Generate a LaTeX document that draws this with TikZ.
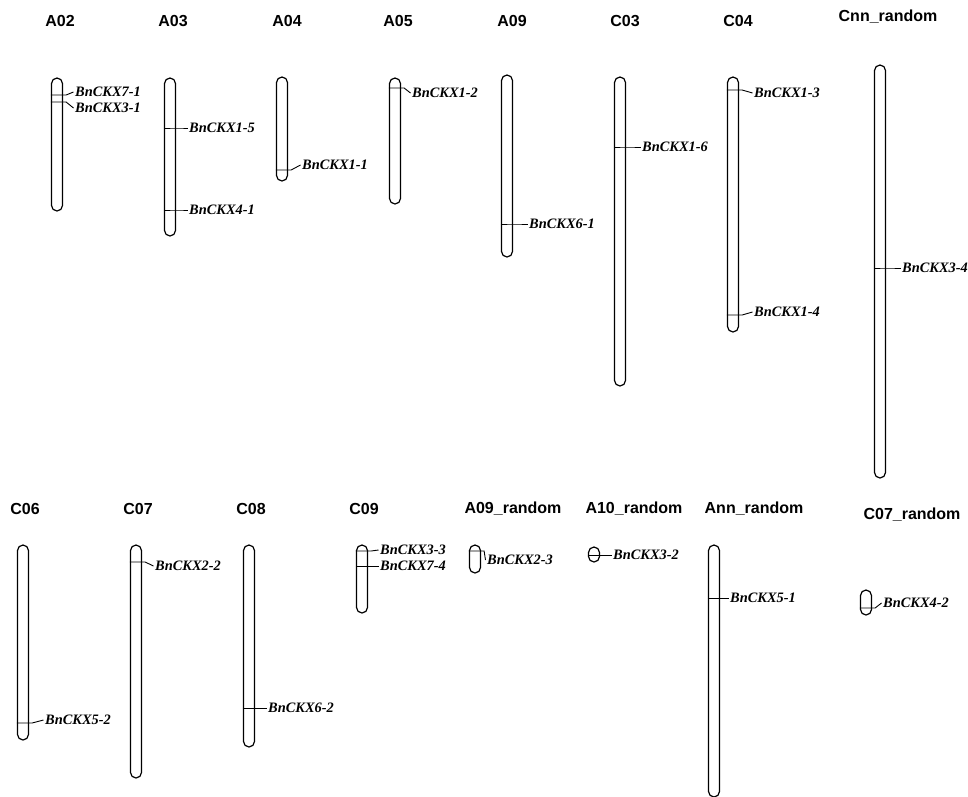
\documentclass[tikz,border=0pt]{standalone}
\usepackage{fontspec}
\setmainfont{Liberation Serif}
\newfontfamily\sansf{Liberation Sans}
\newcommand\genefont{\fontsize{14.4}{14.4}\selectfont\bfseries\itshape}
\newcommand\titlefont{\sansf\fontsize{16}{16}\selectfont\bfseries}
\tikzset{
  chrom/.style={draw, line width=1.2pt, rounded corners=5.5pt, minimum width=11pt, inner sep=0pt},
  gene/.style={font=\genefont, anchor=west, inner sep=0pt},
  chrtitle/.style={font=\titlefont, inner sep=0pt},
  link/.style={line width=0.9pt}
}
% #1 chromosome, #2 marker y, #3 label name, #4 label x, #5 label y, #6 text
\newcommand\genemark[6]{%
  \node[gene] (#3) at (#4,#5) {#6};
  \draw[link] (#1.west |- 0,#2) -- (#1.east |- 0,#2) -- ++(3,0) -- ([xshift=-1.5pt]#3.west);
}
\begin{document}
\begin{tikzpicture}[x=1pt,y=-1pt]
\useasboundingbox (0,0) rectangle (968,796);
% titles
\node[chrtitle] (tA02) at (60,21) {A02};
\node[chrtitle] (tA03) at (173,21) {A03};
\node[chrtitle] (tA04) at (287,21) {A04};
\node[chrtitle] (tA05) at (398,21) {A05};
\node[chrtitle] (tA09) at (512,21) {A09};
\node[chrtitle] (tC03) at (625,21) {C03};
\node[chrtitle] (tC04) at (738,21) {C04};
\node[chrtitle] (tCnn) at (888,17) {Cnn\_random};
\node[chrtitle] (tC06) at (25,509) {C06};
\node[chrtitle] (tC07) at (138,509) {C07};
\node[chrtitle] (tC08) at (251,509) {C08};
\node[chrtitle] (tC09) at (364,509) {C09};
\node[chrtitle] (tA09r) at (513,509) {A09\_random};
\node[chrtitle] (tA10r) at (634,509) {A10\_random};
\node[chrtitle] (tAnnr) at (754,509) {Ann\_random};
\node[chrtitle] (tC07r) at (912,515) {C07\_random};
% chromosomes
\node[chrom, minimum height=133pt] (A02) at (57,144.5) {};
\node[chrom, minimum height=158pt] (A03) at (170,157) {};
\node[chrom, minimum height=104pt] (A04) at (282,129) {};
\node[chrom, minimum height=126pt] (A05) at (395,141) {};
\node[chrom, minimum height=182pt] (A09) at (507,166) {};
\node[chrom, minimum height=309pt] (C03) at (620,231.5) {};
\node[chrom, minimum height=255pt] (C04) at (733,204.5) {};
\node[chrom, minimum height=413pt] (Cnn) at (880,271.5) {};
\node[chrom, minimum height=195pt] (C06) at (23,642.5) {};
\node[chrom, minimum height=233pt] (C07) at (136,661.5) {};
\node[chrom, minimum height=202pt] (C08) at (249,646) {};
\node[chrom, minimum height=68pt] (C09) at (362,579) {};
\node[chrom, minimum height=28pt] (A09r) at (475,559) {};
\node[chrom, minimum height=15pt] (A10r) at (594,554.5) {};
\node[chrom, minimum height=252pt] (Annr) at (714,671) {};
\node[chrom, minimum height=25pt] (C07r) at (866,602.5) {};
% genes
\genemark{A02}{95}{g71}{75}{92}{BnCKX7-1}
\genemark{A02}{102}{g31}{75}{108}{BnCKX3-1}
\genemark{A03}{128}{g15}{189}{128}{BnCKX1-5}
\genemark{A03}{210}{g41}{189}{210}{BnCKX4-1}
\genemark{A04}{170}{g11}{302}{165}{BnCKX1-1}
\genemark{A05}{88}{g12}{412}{93}{BnCKX1-2}
\genemark{A09}{224}{g61}{529}{224}{BnCKX6-1}
\genemark{C03}{147}{g16}{642}{147}{BnCKX1-6}
\genemark{C04}{90}{g13}{754}{93}{BnCKX1-3}
\genemark{C04}{315}{g14}{754}{312}{BnCKX1-4}
\genemark{Cnn}{268}{g34}{902}{268}{BnCKX3-4}
\genemark{C06}{723}{g52}{45}{720}{BnCKX5-2}
\genemark{C07}{562}{g22}{155}{566}{BnCKX2-2}
\genemark{C08}{708}{g62}{268}{708}{BnCKX6-2}
\genemark{C09}{551}{g33}{380}{550}{BnCKX3-3}
\genemark{C09}{566}{g74}{380}{566}{BnCKX7-4}
\genemark{A09r}{551}{g23}{487}{560}{BnCKX2-3}
\genemark{A10r}{555}{g32}{613}{555}{BnCKX3-2}
\genemark{Annr}{598}{g51}{730}{598}{BnCKX5-1}
\genemark{C07r}{608}{g42}{883}{603}{BnCKX4-2}
\end{tikzpicture}
\end{document}
